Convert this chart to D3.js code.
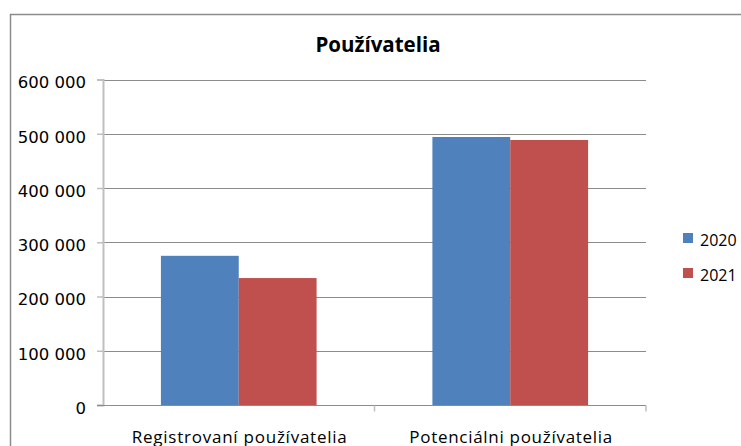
<!DOCTYPE html>
<html>
<head>
<meta charset="utf-8">
<script src="https://cdn.jsdelivr.net/npm/d3@7"></script>
<style>
  body { margin: 0; background: #fff; }
  svg { display: block; }
</style>
</head>
<body>
<svg id="chart"></svg>
<script>
const width = 741;
const height = 446;

// data
const categories = ['Registrovaní používatelia', 'Potenciálni používatelia'];
const series = ['2020', '2021'];
const values2020 = [275000, 494000];
const values2021 = [234000, 488500];
const yTicks = [0, 100000, 200000, 300000, 400000, 500000, 600000];
const colors = ['#4F81BD', '#C0504D'];

const margin = {left: 103, right: 95, top: 79.5, bottom: 41};

const svg = d3.select('#chart')
  .attr('width', width)
  .attr('height', height);

// outer chart border (runs off the picture on the right and bottom)
svg.append('rect')
  .attr('x', 10.5).attr('y', 14.5)
  .attr('width', 800).attr('height', 500)
  .attr('fill', 'none')
  .attr('stroke', '#8c8c8c')
  .attr('stroke-width', 1.5);

svg.append('text')
  .attr('x', 378).attr('y', 52)
  .attr('text-anchor', 'middle')
  .style('font-family', 'Open Sans')
  .style('font-weight', 'bold')
  .style('font-size', '20.5px')
  .text('Používatelia');

const y = d3.scaleLinear()
  .domain([0, 600000])
  .range([height - margin.bottom, margin.top]);

const x0 = d3.scaleBand()
  .domain(categories)
  .range([margin.left, width - margin.right])
  .padding(0);

const x1 = d3.scaleBand()
  .domain(series)
  .range([0, x0.bandwidth()])
  .paddingInner(0)
  .paddingOuter(0.744);

const fmt = d => d3.format(',')(d).replace(/,/g, ' ');

// gridlines
svg.append('g')
  .selectAll('line')
  .data(yTicks.filter(d => d > 0))
  .enter().append('line')
  .attr('x1', margin.left).attr('x2', width - margin.right)
  .attr('y1', d => Math.round(y(d)) + 0.5)
  .attr('y2', d => Math.round(y(d)) + 0.5)
  .attr('stroke', '#8c8c8c');

// bars
const rows = series.map((s, i) => ({name: s, values: i === 0 ? values2020 : values2021, color: colors[i]}));

const group = svg.append('g')
  .selectAll('g')
  .data(rows)
  .enter().append('g')
  .attr('fill', d => d.color);

group.selectAll('rect')
  .data(d => d.values.map((v, j) => ({s: d.name, c: categories[j], v: v})))
  .enter().append('rect')
  .attr('x', d => x0(d.c) + x1(d.s))
  .attr('y', d => y(d.v))
  .attr('width', x1.bandwidth())
  .attr('height', d => y(0) - y(d.v));

// y axis
const yAxis = svg.append('g')
  .attr('transform', 'translate(' + margin.left + ',0)')
  .call(d3.axisLeft(y).tickValues(yTicks).tickFormat(fmt).tickSize(6).tickPadding(11));
yAxis.select('.domain').attr('stroke', '#bfbfbf').attr('stroke-width', 2);
yAxis.selectAll('.tick line').attr('stroke', '#bfbfbf').attr('stroke-width', 1.5);
yAxis.selectAll('.tick text')
  .style('font-family', 'DejaVu Sans')
  .style('font-size', '16.5px')
  .attr('fill', '#000')
  .attr('dy', '0.5em');

// x axis
const xAxis = svg.append('g')
  .attr('transform', 'translate(0,' + (Math.round(y(0)) + 0.5) + ')');
xAxis.append('line')
  .attr('x1', margin.left - 6).attr('x2', width - margin.right)
  .attr('stroke', '#8c8c8c');
xAxis.selectAll('.xt')
  .data(categories.map(c => x0(c) + x0.bandwidth()))
  .enter().append('line')
  .attr('class', 'xt')
  .attr('x1', d => d).attr('x2', d => d)
  .attr('y1', 0).attr('y2', 6)
  .attr('stroke', '#bfbfbf')
  .attr('stroke-width', 1.5);
xAxis.selectAll('.xl')
  .data(categories)
  .enter().append('text')
  .attr('class', 'xl')
  .attr('x', d => x0(d) + x0.bandwidth() / 2 + 0.5)
  .attr('y', 37)
  .attr('text-anchor', 'middle')
  .attr('textLength', (d, i) => i === 0 ? 215 : 203)
  .attr('lengthAdjust', 'spacing')
  .style('font-family', 'Open Sans')
  .style('font-size', '17px')
  .text(d => d);

// legend
const legend = svg.append('g')
  .attr('transform', 'translate(683,233)')
  .selectAll('g')
  .data(rows)
  .enter().append('g')
  .attr('transform', (d, i) => 'translate(0,' + (i * 35) + ')');
legend.append('rect')
  .attr('width', 10).attr('height', 10)
  .attr('fill', d => d.color);
legend.append('text')
  .attr('x', 17).attr('y', 13)
  .style('font-family', 'Open Sans')
  .style('font-size', '16px')
  .text(d => d.name);
</script>
</body>
</html>
